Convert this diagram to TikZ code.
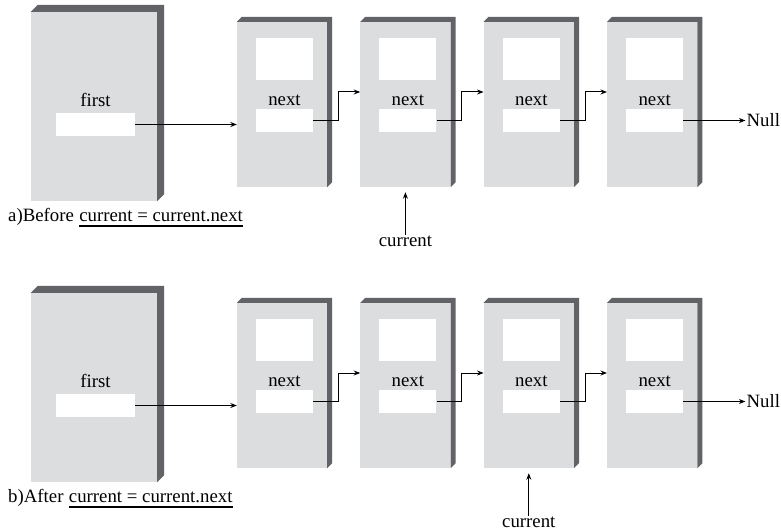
\documentclass[tikz,border=0pt]{standalone}
\usepackage{fontspec}
\setmainfont{Liberation Serif}
\usetikzlibrary{positioning,arrows.meta}
\definecolor{facegray}{RGB}{220,221,223}
\definecolor{sidegray}{RGB}{98,99,103}

\begin{document}
\begin{tikzpicture}[
    x=1pt, y=-1pt,
    node distance=33pt,
    font=\rmfamily\fontsize{18.8}{22}\selectfont,
    cell/.style={rectangle, fill=facegray, inner sep=0pt, minimum width=90pt, minimum height=165pt},
    firstbox/.style={cell, minimum width=126pt, minimum height=189pt},
    field/.style={rectangle, fill=white, inner sep=0pt, minimum width=57pt, minimum height=23pt},
    word/.style={inner sep=0pt, anchor=base},
    arrow/.style={-{Stealth[length=6.5pt,width=5pt]}, line width=1pt},
    rule/.style={line width=1.8pt}
]
    \useasboundingbox (0,0) rectangle (781,532);

    % a) before
    \node[firstbox] (afirst) at (94,106.5) {};
    \node[cell] (a1) at (282,104.5) {};
    \node[cell, right=of a1] (a2) {};
    \node[cell, right=of a2] (a3) {};
    \node[cell, right=of a3] (a4) {};

    % b) after
    \node[firstbox] (bfirst) at (94,387.5) {};
    \node[cell] (b1) at (282,385.5) {};
    \node[cell, right=of b1] (b2) {};
    \node[cell, right=of b2] (b3) {};
    \node[cell, right=of b3] (b4) {};

    % dark sides of the boxes
    \foreach \b/\d in {afirst/7, a1/5, a2/5, a3/5, a4/5, bfirst/7, b1/5, b2/5, b3/5, b4/5}
        \fill[sidegray] (\b.north west) -- ++(\d,-\d) -| ([shift={(\d,-\d)}]\b.south east)
            -- (\b.south east) |- (\b.north west) -- cycle;

    % fields
    \foreach \r in {a,b} {
        \node[field, minimum width=79pt] (\r first-ptr) at ([xshift=1.5pt,yshift=-18pt]\r first.center) {};
        \node[word] at ([yshift=6pt]\r first-ptr.north) {first};
    }
    \foreach \c in {a1,a2,a3,a4,b1,b2,b3,b4} {
        \node[field, minimum height=42pt] (\c-data) at ([xshift=2.5pt,yshift=45.5pt]\c.center) {};
        \node[field] (\c-ptr) at ([xshift=2.5pt,yshift=-16pt]\c.center) {};
        \node[word] at ([yshift=3.5pt]\c-ptr.north) {next};
    }

    % links, row a
    \draw[arrow] (afirst-ptr.east) -- (afirst-ptr.east -| a1.west);
    \draw[arrow] (a1-ptr.east) -- ++(25,0) |- ([yshift=12.5pt]a2.west);
    \draw[arrow] (a2-ptr.east) -- ++(25,0) |- ([yshift=12.5pt]a3.west);
    \draw[arrow] (a3-ptr.east) -- ++(25,0) |- ([yshift=12.5pt]a4.west);
    \node[inner sep=1pt, anchor=west] (anull) at ([xshift=62pt]a4-ptr.east) {Null};
    \draw[arrow] (a4-ptr.east) -- (anull.west);
    \node[inner sep=1pt, below=48pt of a2] (acur) {current};
    \draw[arrow] (acur) -- ([yshift=-5pt]a2.south);

    % links, row b
    \draw[arrow] (bfirst-ptr.east) -- (bfirst-ptr.east -| b1.west);
    \draw[arrow] (b1-ptr.east) -- ++(25,0) |- ([yshift=12.5pt]b2.west);
    \draw[arrow] (b2-ptr.east) -- ++(25,0) |- ([yshift=12.5pt]b3.west);
    \draw[arrow] (b3-ptr.east) -- ++(25,0) |- ([yshift=12.5pt]b4.west);
    \node[inner sep=1pt, anchor=west] (bnull) at ([xshift=62pt]b4-ptr.east) {Null};
    \draw[arrow] (b4-ptr.east) -- (bnull.west);
    \node[inner sep=1pt, below=48pt of b3] (bcur) {current};
    \draw[arrow] (bcur) -- ([yshift=-5pt]b3.south);

    % captions
    \node[word, anchor=base west] (acap) at (8,221) {a)Before};
    \node[word, anchor=base west] (aeq) at ([xshift=5pt]acap.base east) {current = current.next};
    \draw[rule] ([yshift=-5pt]aeq.base west) -- ([yshift=-5pt]aeq.base east);
    \node[word, anchor=base west] (bcap) at (8,502) {b)After};
    \node[word, anchor=base west] (beq) at ([xshift=5pt]bcap.base east) {current = current.next};
    \draw[rule] ([yshift=-5pt]beq.base west) -- ([yshift=-5pt]beq.base east);
\end{tikzpicture}
\end{document}
